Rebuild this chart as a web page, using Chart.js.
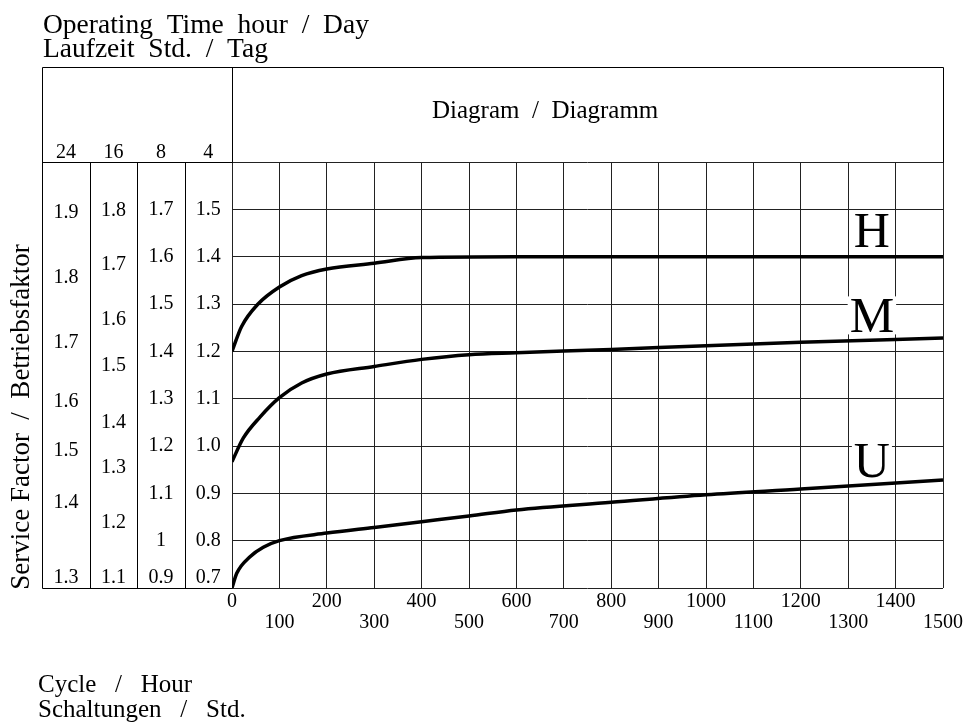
<!DOCTYPE html>
<html>
<head>
<meta charset="utf-8">
<title>Service Factor Diagram</title>
<script src="https://cdn.jsdelivr.net/npm/chart.js@4"></script>
<style>
  html, body { margin: 0; padding: 0; background: #fff; }
  #chart { display: block; }
</style>
</head>
<body>
<canvas id="chart" width="966" height="722"></canvas>
<script>
// cycles per hour and service factor (4 h/day scale) for each curve
const xH = [0, 20, 55, 100, 147, 200, 300, 400, 600, 1500];
const yH = [1.2, 1.252, 1.3, 1.336, 1.36, 1.374, 1.386, 1.398, 1.4, 1.4];
const xM = [0, 24, 59, 100, 147, 200, 300, 400, 500, 600, 800, 1000, 1200, 1500];
const yM = [0.967, 1.017, 1.061, 1.102, 1.133, 1.152, 1.168, 1.183, 1.193, 1.197, 1.204, 1.212, 1.219, 1.228];
const xU = [0, 10, 38, 66, 100, 200, 300, 400, 500, 600, 800, 1000, 1200, 1500];
const yU = [0.7, 0.731, 0.766, 0.786, 0.8, 0.816, 0.828, 0.84, 0.852, 0.865, 0.881, 0.897, 0.909, 0.928];
const curveNames = ['H', 'M', 'U'];
const curveNameY = [1.42, 1.24, 0.935];

// operating time columns: header and factor labels with their 4 h/day equivalents
const hoursPerDay = ['24', '16', '8', '4'];
const col24 = ['1.9', '1.8', '1.7', '1.6', '1.5', '1.4', '1.3'];
const col24At = [1.493, 1.355, 1.218, 1.093, 0.99, 0.88, 0.7];
const col16 = ['1.8', '1.7', '1.6', '1.5', '1.4', '1.3', '1.2', '1.1'];
const col16At = [1.497, 1.383, 1.267, 1.169, 1.049, 0.954, 0.837, 0.7];
const col8 = ['1.7', '1.6', '1.5', '1.4', '1.3', '1.2', '1.1', '1', '0.9'];
const col8At = [1.5, 1.4, 1.3, 1.2, 1.1, 1.0, 0.9, 0.8, 0.7];
const col4 = ['1.5', '1.4', '1.3', '1.2', '1.1', '1.0', '0.9', '0.8', '0.7'];
const col4At = [1.5, 1.4, 1.3, 1.2, 1.1, 1.0, 0.9, 0.8, 0.7];
const columns = [[col24, col24At], [col16, col16At], [col8, col8At], [col4, col4At]];

const SERIF = '"Liberation Serif", "Times New Roman", serif';

const toPoints = (xs, ys) => xs.map((x, i) => ({ x: x, y: ys[i] }));

const frame = {
  id: 'frame',
  afterDatasetsDraw(chart) {
    const { ctx, scales: { x, y } } = chart;
    ctx.save();
    ctx.font = '50px ' + SERIF;
    ctx.textAlign = 'center';
    ctx.textBaseline = 'alphabetic';
    curveNames.forEach((name, i) => {
      const cx = x.getPixelForValue(1350);
      const by = y.getPixelForValue(curveNameY[i]);
      const w = ctx.measureText(name).width;
      ctx.fillStyle = '#fff';
      ctx.fillRect(cx - w / 2 - 2, by - 36, w + 4, 38);
      ctx.fillStyle = '#000';
      ctx.fillText(name, cx, by);
    });
    ctx.restore();
  },
  afterDraw(chart) {
    const { ctx, scales: { x, y } } = chart;
    const px = v => Math.round(x.getPixelForValue(v)) + 0.5;
    const py = v => Math.round(y.getPixelForValue(v)) + 0.5;
    const line = (x1, y1, x2, y2) => {
      ctx.beginPath();
      ctx.moveTo(px(x1), py(y1));
      ctx.lineTo(px(x2), py(y2));
      ctx.stroke();
    };
    ctx.save();
    ctx.strokeStyle = '#000';
    ctx.lineWidth = 1;
    // outer box and header
    line(-400, 1.8, 1500, 1.8);
    line(-400, 0.7, -400, 1.8);
    line(1500, 1.6, 1500, 1.8);
    line(0, 1.6, 0, 1.8);
    line(-400, 1.6, 0, 1.6);
    line(-400, 0.7, 0, 0.7);
    [-300, -200, -100].forEach(v => line(v, 0.7, v, 1.6));

    ctx.fillStyle = '#000';
    ctx.textAlign = 'center';
    ctx.textBaseline = 'middle';
    ctx.font = '20px ' + SERIF;
    const bottom = y.getPixelForValue(0.7) - 10;
    columns.forEach(([labels, at], c) => {
      const cx = x.getPixelForValue(-350 + c * 100);
      ctx.fillText(hoursPerDay[c], cx, y.getPixelForValue(1.62));
      labels.forEach((t, i) => {
        ctx.fillText(t, cx, Math.min(y.getPixelForValue(at[i]), bottom));
      });
    });

    ctx.textAlign = 'left';
    ctx.textBaseline = 'alphabetic';
    ctx.font = '27.5px ' + SERIF;
    ctx.fillText('Operating  Time  hour  /  Day', 43, 33);
    ctx.fillText('Laufzeit  Std.  /  Tag', 43, 57);
    ctx.font = '25px ' + SERIF;
    ctx.fillText('Diagram  /  Diagramm', 432, 118);
    ctx.fillText('Cycle   /   Hour', 38, 692);
    ctx.fillText('Schaltungen   /   Std.', 38, 717);

    ctx.save();
    ctx.translate(29, 417);
    ctx.rotate(-Math.PI / 2);
    ctx.textAlign = 'center';
    ctx.font = '27px ' + SERIF;
    ctx.fillText('Service Factor  /  Betriebsfaktor', 0, 0);
    ctx.restore();
    ctx.restore();
  }
};

const curveStyle = {
  borderColor: '#000',
  borderWidth: 3.5,
  pointRadius: 0,
  fill: false,
  cubicInterpolationMode: 'monotone'
};

new Chart('chart', {
  type: 'line',
  data: {
    datasets: [
      Object.assign({ label: 'H', data: toPoints(xH, yH) }, curveStyle),
      Object.assign({ label: 'M', data: toPoints(xM, yM) }, curveStyle),
      Object.assign({ label: 'U', data: toPoints(xU, yU) }, curveStyle)
    ]
  },
  options: {
    responsive: false,
    animation: false,
    layout: { padding: { left: 232, top: 162, right: 23, bottom: 0 } },
    plugins: { legend: { display: false }, tooltip: { enabled: false } },
    scales: {
      x: {
        type: 'linear',
        min: 0,
        max: 1500,
        afterFit: s => { s.height = 134; },
        border: { display: false },
        grid: { color: '#222', lineWidth: 1, drawTicks: false },
        ticks: {
          stepSize: 100,
          padding: 3,
          color: '#000',
          maxRotation: 0,
          autoSkip: false,
          font: { family: SERIF, size: 20, lineHeight: 1.05 },
          callback: v => (v % 200 === 0 ? String(v) : ['', String(v)])
        }
      },
      y: {
        min: 0.7,
        max: 1.6,
        afterFit: s => { s.width = 0; },
        border: { display: false },
        grid: { color: '#222', lineWidth: 1, drawTicks: false },
        ticks: { stepSize: 0.1, display: false }
      }
    }
  },
  plugins: [frame]
});
</script>
</body>
</html>
